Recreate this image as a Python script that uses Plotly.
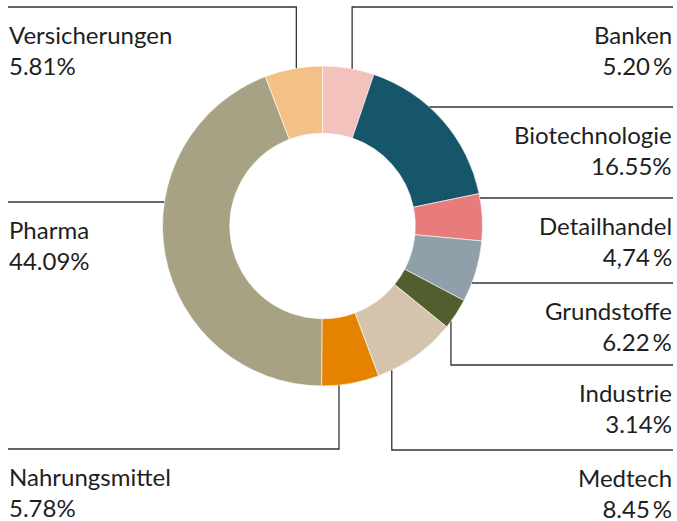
import math
import plotly.graph_objects as go

# ---- data ----
sectors = ["Banken", "Biotechnologie", "Detailhandel", "Grundstoffe", "Industrie",
           "Medtech", "Nahrungsmittel", "Pharma", "Versicherungen"]
shares = [5.20, 16.55, 4.74, 6.22, 3.14, 8.45, 5.78, 44.09, 5.81]
share_labels = ["5.20\u2009%", "16.55%", "4,74\u2009%", "6.22\u2009%", "3.14%",
                "8.45\u2009%", "5.78%", "44.09%", "5.81%"]
colors = ["#f4c2bd", "#16566a", "#e87b7b", "#8fa0ab", "#535e2f",
          "#d4c4ae", "#e58300", "#a8a284", "#f3c086"]

# ---- layout constants (pixels) ----
W, H = 677, 521
CX, CY, R = 322.5, 226.0, 160.0
HOLE = 0.58
LEFT_X, RIGHT_X = 8, 673
TEXT_OFF = 12
# side, y of the leader's horizontal line, anchor (fraction within slice, or None = horizontal hit)
leaders = {
    "Banken": ("right", 7, 0.57),
    "Biotechnologie": ("right", 107, None),
    "Detailhandel": ("right", 198, None),
    "Grundstoffe": ("right", 283, None),
    "Industrie": ("right", 365, 0.78),
    "Medtech": ("right", 450, 0.83),
    "Nahrungsmittel": ("left", 449, 0.70),
    "Pharma": ("left", 202, None),
    "Versicherungen": ("left", 7, 0.55),
}

def px(x):
    return x / W

def py(y):
    return 1 - y / H

fig = go.Figure(go.Pie(
    labels=sectors, values=shares, sort=False, direction="clockwise", rotation=0,
    hole=HOLE, textinfo="none", showlegend=False,
    marker=dict(colors=colors, line=dict(color="white", width=0.6)),
    domain=dict(x=[px(CX - R), px(CX + R)], y=[py(CY + R), py(CY - R)]),
))

total = sum(shares)
cum = 0.0
shapes, annotations = [], []
for name, val, lab in zip(sectors, shares, share_labels):
    a0 = cum / total * 360
    cum += val
    a1 = cum / total * 360
    side, ly, frac = leaders[name]
    edge = RIGHT_X if side == "right" else LEFT_X
    if frac is None:
        dx = math.sqrt(max(R * R - (ly - CY) ** 2, 0))
        sx = CX + dx if side == "right" else CX - dx
        path = f"M {px(sx)},{py(ly)} L {px(edge)},{py(ly)}"
    else:
        th = math.radians(a0 + frac * (a1 - a0))
        ax = CX + R * math.sin(th)
        ay = CY - R * math.cos(th)
        path = f"M {px(ax)},{py(ay)} L {px(ax)},{py(ly)} L {px(edge)},{py(ly)}"
    shapes.append(dict(type="path", xref="paper", yref="paper", path=path,
                       line=dict(color="#333333", width=1.3)))
    annotations.append(dict(
        text=f"{name}<br>{lab}", x=px(edge), y=py(ly + TEXT_OFF),
        xref="paper", yref="paper", xanchor="right" if side == "right" else "left",
        yanchor="top", align="right" if side == "right" else "left",
        showarrow=False, borderpad=0,
        font=dict(family="Lato", size=24, color="#1e1e1e"),
    ))

fig.update_layout(
    width=W, height=H, margin=dict(l=0, r=0, t=0, b=0),
    paper_bgcolor="white", plot_bgcolor="white",
    shapes=shapes, annotations=annotations,
)
fig.write_html("out.html", config={"displayModeBar": False},
               post_script="document.body.style.margin='0';document.body.style.overflow='hidden';")
